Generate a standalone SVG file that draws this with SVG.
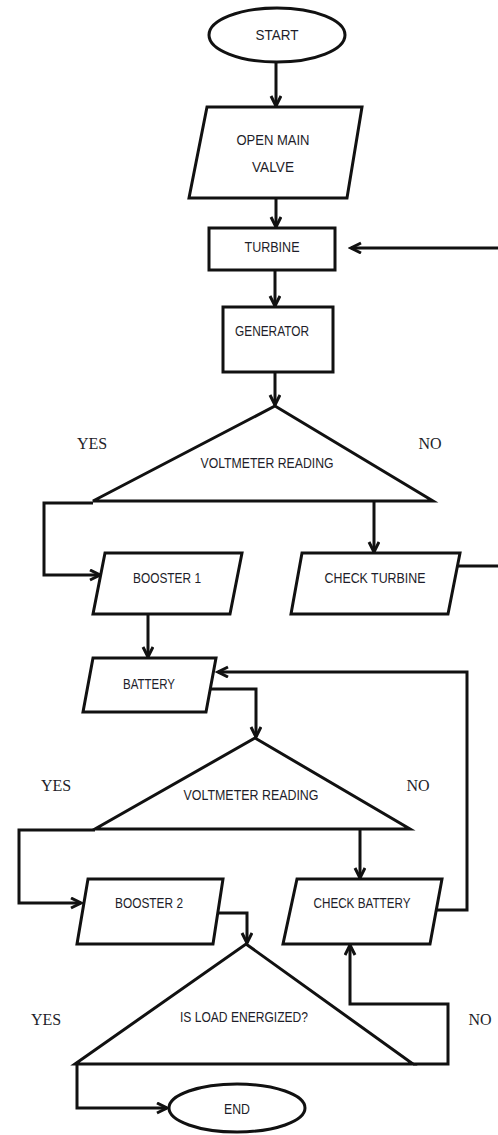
<svg xmlns="http://www.w3.org/2000/svg" width="498" height="1135" viewBox="0 0 498 1135">
<defs>
<style>
.shape{fill:#fff;stroke:#111;stroke-width:3;stroke-linejoin:miter}
.conn{fill:none;stroke:#111;stroke-width:3}
.lbl{font-family:"Liberation Sans",Arial,sans-serif;font-size:14.5px;fill:#1e1e2a;text-anchor:middle;dominant-baseline:central}
.yn{font-family:"Liberation Serif","Times New Roman",serif;font-size:16px;fill:#1e1e2a;text-anchor:middle;dominant-baseline:central}
</style>
<marker id="arr" markerUnits="userSpaceOnUse" markerWidth="14" markerHeight="14" refX="11" refY="6" orient="auto">
<path d="M1,1 L11,6 L1,11" fill="none" stroke="#111" stroke-width="3"/>
</marker>
</defs>
<rect width="498" height="1135" fill="#fff"/>
<g id="connectors">
<path class="conn" d="M276,63 V106" marker-end="url(#arr)"/>
<path class="conn" d="M276,198 V227" marker-end="url(#arr)"/>
<path class="conn" d="M498,248 H351" marker-end="url(#arr)"/>
<path class="conn" d="M275,270 V306" marker-end="url(#arr)"/>
<path class="conn" d="M275,372 V405" marker-end="url(#arr)"/>
<path class="conn" d="M93,503 H44 V575 H100" marker-end="url(#arr)"/>
<path class="conn" d="M374,501 V552" marker-end="url(#arr)"/>
<path class="conn" d="M455,566 H498"/>
<path class="conn" d="M148,614 V657" marker-end="url(#arr)"/>
<path class="conn" d="M210,689 H256 V737" marker-end="url(#arr)"/>
<path class="conn" d="M95,830 H19 V903 H81" marker-end="url(#arr)"/>
<path class="conn" d="M360,829 V878" marker-end="url(#arr)"/>
<path class="conn" d="M436,910 H467 V672 H218" marker-end="url(#arr)"/>
<path class="conn" d="M218,913 H247 V943" marker-end="url(#arr)"/>
<path class="conn" d="M413,1064 H448 V1004 H350 V945" marker-end="url(#arr)"/>
<path class="conn" d="M77,1064 V1108 H167" marker-end="url(#arr)"/>
</g>
<g id="start">
<ellipse class="shape" cx="277" cy="35" rx="68" ry="27"/>
<text class="lbl" x="277" y="35" textLength="43" lengthAdjust="spacingAndGlyphs">START</text>
</g>
<g id="open-main-valve">
<polygon class="shape" points="207,107 362,107 347,198 189,198"/>
<text class="lbl" x="273" y="140" textLength="73" lengthAdjust="spacingAndGlyphs">OPEN MAIN</text>
<text class="lbl" x="273" y="167" textLength="42" lengthAdjust="spacingAndGlyphs">VALVE</text>
</g>
<g id="turbine">
<rect class="shape" x="209" y="228" width="126" height="42"/>
<text class="lbl" x="272" y="247" textLength="55" lengthAdjust="spacingAndGlyphs">TURBINE</text>
</g>
<g id="generator">
<rect class="shape" x="223" y="307" width="110" height="65"/>
<text class="lbl" x="272" y="331" textLength="74" lengthAdjust="spacingAndGlyphs">GENERATOR</text>
</g>
<g id="decision-1">
<polygon class="shape" points="275,406 433,501 93,501"/>
<text class="lbl" x="267" y="463" textLength="133" lengthAdjust="spacingAndGlyphs">VOLTMETER READING</text>
<text class="yn" x="92" y="443">YES</text>
<text class="yn" x="430" y="443">NO</text>
</g>
<g id="booster-1">
<polygon class="shape" points="105,553 242,553 230,614 93,614"/>
<text class="lbl" x="167" y="578" textLength="68" lengthAdjust="spacingAndGlyphs">BOOSTER 1</text>
</g>
<g id="check-turbine">
<polygon class="shape" points="302,553 460,553 448,614 291,614"/>
<text class="lbl" x="375" y="578" textLength="101" lengthAdjust="spacingAndGlyphs">CHECK TURBINE</text>
</g>
<g id="battery">
<polygon class="shape" points="93,658 216,658 206,712 83,712"/>
<text class="lbl" x="149" y="684" textLength="52" lengthAdjust="spacingAndGlyphs">BATTERY</text>
</g>
<g id="decision-2">
<polygon class="shape" points="255,738 410,829 95,829"/>
<text class="lbl" x="251" y="795" textLength="135" lengthAdjust="spacingAndGlyphs">VOLTMETER READING</text>
<text class="yn" x="56" y="785">YES</text>
<text class="yn" x="418" y="785">NO</text>
</g>
<g id="booster-2">
<polygon class="shape" points="88,879 223,879 213,944 77,944"/>
<text class="lbl" x="149" y="903" textLength="68" lengthAdjust="spacingAndGlyphs">BOOSTER 2</text>
</g>
<g id="check-battery">
<polygon class="shape" points="297,879 442,879 430,944 283,944"/>
<text class="lbl" x="362" y="903" textLength="97" lengthAdjust="spacingAndGlyphs">CHECK BATTERY</text>
</g>
<g id="decision-3">
<polygon class="shape" points="246,944 413,1064 75,1064"/>
<text class="lbl" x="244" y="1017" textLength="128" lengthAdjust="spacingAndGlyphs">IS LOAD ENERGIZED?</text>
<text class="yn" x="46" y="1019">YES</text>
<text class="yn" x="480" y="1019">NO</text>
</g>
<g id="end">
<ellipse class="shape" cx="237" cy="1108" rx="68" ry="24"/>
<text class="lbl" x="237" y="1109" textLength="26" lengthAdjust="spacingAndGlyphs">END</text>
</g>
</svg>
